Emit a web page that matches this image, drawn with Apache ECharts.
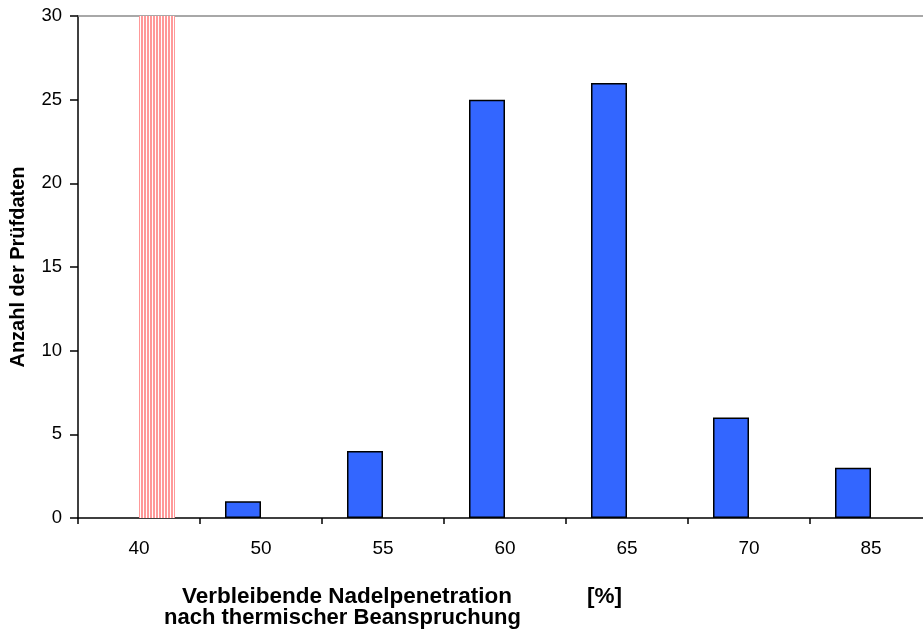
<!DOCTYPE html>
<html>
<head>
<meta charset="utf-8">
<script src="https://cdn.jsdelivr.net/npm/echarts@6/dist/echarts.min.js"></script>
<style>
  html, body { margin: 0; padding: 0; background: #fff; }
  #chart { width: 923px; height: 636px; }
</style>
</head>
<body>
<div id="chart"></div>
<script>
// categories and values
const categories = ['40', '50', '55', '60', '65', '70', '85'];
const pruefdaten = ['-', 1, 4, 25, 26, 6, 3];
const grenzwert = [30, '-', '-', '-', '-', '-', '-'];
const yTicks = [0, 5, 10, 15, 20, 25, 30];

// vertical pink stripes like the original hatch
function stripePattern() {
  const c = document.createElement('canvas');
  c.width = 3; c.height = 4;
  const ctx = c.getContext('2d');
  ctx.fillStyle = '#ffffff';
  ctx.fillRect(0, 0, 3, 4);
  ctx.fillStyle = '#ff9999';
  ctx.fillRect(0, 0, 2, 4);
  return c;
}

const font = '"Liberation Sans", Arial, sans-serif';
const chart = echarts.init(document.getElementById('chart'));

chart.setOption({
  animation: false,
  // plot area runs a bit past the right edge of the picture
  grid: { left: 78, right: -9, top: 16, bottom: 118, outerBoundsMode: 'none', containLabel: false },
  xAxis: [
    {
      type: 'category',
      data: categories,
      axisLine: { lineStyle: { color: '#000', width: 1.5 } },
      axisTick: { show: true, length: 6, lineStyle: { color: '#000', width: 1.5 } },
      axisLabel: { color: '#000', fontSize: 19, fontFamily: font, margin: 21 }
    },
    {
      type: 'category',
      data: categories,
      position: 'top',
      axisLine: { lineStyle: { color: '#8c8c8c', width: 1.5 } },
      axisTick: { show: false },
      axisLabel: { show: false }
    }
  ],
  yAxis: {
    type: 'value',
    min: yTicks[0],
    max: yTicks[yTicks.length - 1],
    interval: 5,
    name: 'Anzahl der Prüfdaten',
    nameLocation: 'middle',
    nameRotate: 90,
    nameGap: 50,
    nameTextStyle: { color: '#000', fontSize: 20, fontWeight: 'bold', fontFamily: font },
    axisLine: { show: true, lineStyle: { color: '#000', width: 1.5 } },
    axisTick: { show: true, length: 8, lineStyle: { color: '#000', width: 1.5 } },
    axisLabel: { color: '#000', fontSize: 18.5, fontFamily: font, margin: 16 },
    splitLine: { show: false }
  },
  series: [
    {
      name: 'Prüfdaten',
      type: 'bar',
      data: pruefdaten,
      barWidth: 36,
      barGap: '0%',
      itemStyle: { color: '#3366ff', borderColor: '#000', borderWidth: 1.5 }
    },
    {
      name: 'Grenzwert',
      type: 'bar',
      data: grenzwert,
      barWidth: 36,
      barGap: '0%',
      itemStyle: { color: { image: stripePattern(), repeat: 'repeat' } }
    }
  ],
  graphic: [
    {
      type: 'text', left: 182, top: 585,
      style: { text: 'Verbleibende Nadelpenetration', font: 'bold 22.5px ' + font, fill: '#000' }
    },
    {
      type: 'text', left: 587, top: 585,
      style: { text: '[%]', font: 'bold 22.5px ' + font, fill: '#000' }
    },
    {
      type: 'text', left: 164, top: 607,
      style: { text: 'nach thermischer Beanspruchung', font: 'bold 22px ' + font, fill: '#000' }
    }
  ]
});
</script>
</body>
</html>
